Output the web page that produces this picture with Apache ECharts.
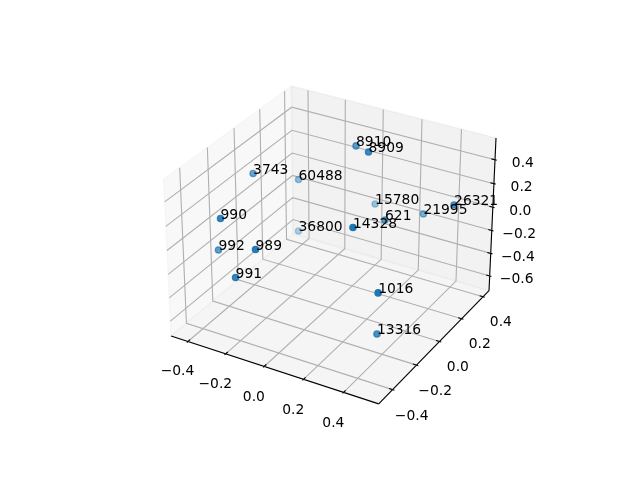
<!DOCTYPE html>
<html><head><meta charset="utf-8"><style>html,body{margin:0;padding:0;background:#fff}#c{width:640px;height:480px}</style>
<script src="https://cdn.jsdelivr.net/npm/echarts@6/dist/echarts.min.js"></script></head><body><div id="c"></div>
<script>
const names=['8910','8909','3743','60488','15780','26321','21995','621','14328','36800','990','992','989','991','1016','13316'];
const xs=[-0.011,0.102,-0.403,-0.299,0.017,0.473,0.276,0.186,0.183,-0.300,-0.372,-0.431,-0.183,-0.249,0.350,0.319];
const ys=[0.244,0.164,0.013,0.219,0.367,0.276,0.356,0.171,-0.093,0.216,-0.283,-0.225,-0.296,-0.356,-0.156,-0.109];
const zs=[0.439,0.502,0.227,0.049,-0.148,0.131,-0.106,-0.037,0.133,-0.400,0.117,-0.230,-0.041,-0.255,-0.275,-0.690];
const xLim=[-0.49,0.572],yLim=[-0.513,0.457],zLim=[-0.731,0.58];
const xTicks=[-0.4,-0.2,0,0.2,0.4],yTicks=[-0.4,-0.2,0,0.2,0.4],zTicks=[-0.6,-0.4,-0.2,0,0.2,0.4];
const e=30*Math.PI/180,a=-60*Math.PI/180,dist=10;
const k=1.8294640721620434*25/24/Math.hypot(4,4,3);const box=[4*k,4*k,3*k];
const w=[Math.cos(e)*Math.cos(a),Math.cos(e)*Math.sin(a),Math.sin(e)];
const u=[-Math.sin(a),Math.cos(a),0];
const v=[w[1]*u[2]-w[2]*u[1],w[2]*u[0]-w[0]*u[2],w[0]*u[1]-w[1]*u[0]];
const lims=[xLim,yLim,zLim];
const dot=(p,q)=>p[0]*q[0]+p[1]*q[1]+p[2]*q[2];
const sc=369.6/0.185,cx=143.2+0.095*sc,cy=480-(52.8+0.095*sc);
function toQ(p){return p.map((t,i)=>(t-lims[i][0])/(lims[i][1]-lims[i][0])*box[i]-box[i]/2);}
function proj(p){const q=toQ(p),D=dot(q,w),f=dist-D;return [cx+dot(q,u)/f*sc,cy-dot(q,v)/f*sc,D];}
const projected=names.map((_,i)=>proj([xs[i],ys[i],zs[i]]));
const dmin=Math.min(...projected.map(r=>r[2])),dmax=Math.max(...projected.map(r=>r[2]));
const [x0,x1]=xLim,[y0,y1]=yLim,[z0,z1]=zLim;
const dx=(x1-x0)/12,dy=(y1-y0)/12,dz=(z1-z0)/12,lab=1.037;
const fmt=t=>(t<0?'\u2212':'')+Math.abs(t).toFixed(1);
const polys=[
 {pts:[[x0,y0,z0],[x0,y1,z0],[x0,y1,z1],[x0,y0,z1]],fill:'rgba(242,242,242,.5)'},
 {pts:[[x0,y1,z0],[x1,y1,z0],[x1,y1,z1],[x0,y1,z1]],fill:'rgba(230,230,230,.5)'},
 {pts:[[x0,y0,z0],[x1,y0,z0],[x1,y1,z0],[x0,y1,z0]],fill:'rgba(236,236,236,.5)'}];
const grid=[],axes=[[[x0,y0,z0],[x1,y0,z0]],[[x1,y0,z0],[x1,y1,z0]],[[x1,y1,z0],[x1,y1,z1]]],ticks=[],labels=[];
xTicks.forEach(t=>{grid.push([[t,y0,z0],[t,y1,z0],[t,y1,z1]]);ticks.push([[t,y0-0.1*dy,z0],[t,y0+0.2*dy,z0]]);labels.push({p:[t,y0-lab*dy,z0-lab*dz],s:fmt(t)});});
yTicks.forEach(t=>{grid.push([[x1,t,z0],[x0,t,z0],[x0,t,z1]]);ticks.push([[x1+0.1*dx,t,z0],[x1-0.2*dx,t,z0]]);labels.push({p:[x1+lab*dx,t,z0-lab*dz],s:fmt(t)});});
zTicks.forEach(t=>{grid.push([[x0,y0,t],[x0,y1,t],[x1,y1,t]]);ticks.push([[x1+0.1*dx,y1,t],[x1-0.2*dx,y1,t]]);labels.push({p:[x1+lab*dx,y1+lab*dy,t],s:fmt(t)});});
const FONT='13.89px "DejaVu Sans"';
function lineSeries(list,color,width,z){return {type:'custom',coordinateSystem:'cartesian2d',clip:false,silent:true,z,data:list.map((_,i)=>[i]),
 renderItem:(params,api)=>({type:'polyline',shape:{points:list[params.dataIndex].map(p=>{const s=proj(p);return api.coord([s[0],s[1]]);})},style:{stroke:color,lineWidth:width,fill:null}})};}
const option={animation:false,
 grid:{left:0,right:0,top:0,bottom:0},
 xAxis:{type:'value',min:0,max:640,show:false},yAxis:{type:'value',min:0,max:480,inverse:true,show:false},
 series:[
 {type:'custom',coordinateSystem:'cartesian2d',clip:false,silent:true,z:1,data:polys.map((_,i)=>[i]),
  renderItem:(params,api)=>{const P=polys[params.dataIndex];return {type:'polygon',shape:{points:P.pts.map(p=>{const s=proj(p);return api.coord([s[0],s[1]]);})},style:{fill:P.fill,stroke:P.fill,lineWidth:1.39}};}},
 lineSeries(axes,'#000',1.11,2),
 lineSeries(grid,'#b0b0b0',1.11,3),
 lineSeries(ticks,'#000',1.11,4),
 {type:'custom',coordinateSystem:'cartesian2d',clip:false,silent:true,z:5,data:labels.map((_,i)=>[i]),
  renderItem:(params,api)=>{const L=labels[params.dataIndex],s=proj(L.p),c=api.coord([s[0]+0.5,s[1]+7.5]);return {type:'text',style:{x:c[0],y:c[1],text:L.s,font:FONT,fill:'#000',align:'center',verticalAlign:'middle'}};}},
 {type:'scatter',coordinateSystem:'cartesian2d',z:6,symbol:'circle',symbolSize:6.2,clip:false,
  data:projected.map((r,i)=>{const al=1-(dmax-r[2])/(dmax-dmin)*0.7;return {name:names[i],value:[r[0],r[1]],
   itemStyle:{color:'#1f77b4',borderColor:'#1f77b4',borderWidth:1.39,opacity:al}};}).sort((p,q)=>p.itemStyle.opacity-q.itemStyle.opacity)},
 {type:'custom',coordinateSystem:'cartesian2d',clip:false,silent:true,z:7,data:names.map((_,i)=>[i]),
  renderItem:(params,api)=>{const r=projected[params.dataIndex],c=api.coord([r[0],r[1]-3.5]);return {type:'text',style:{x:c[0],y:c[1],text:names[params.dataIndex],font:FONT,fill:'#000',align:'left',verticalAlign:'middle'}};}}
 ]};
echarts.init(document.getElementById('c'),null,{renderer:'canvas'}).setOption(option);
</script></body></html>
